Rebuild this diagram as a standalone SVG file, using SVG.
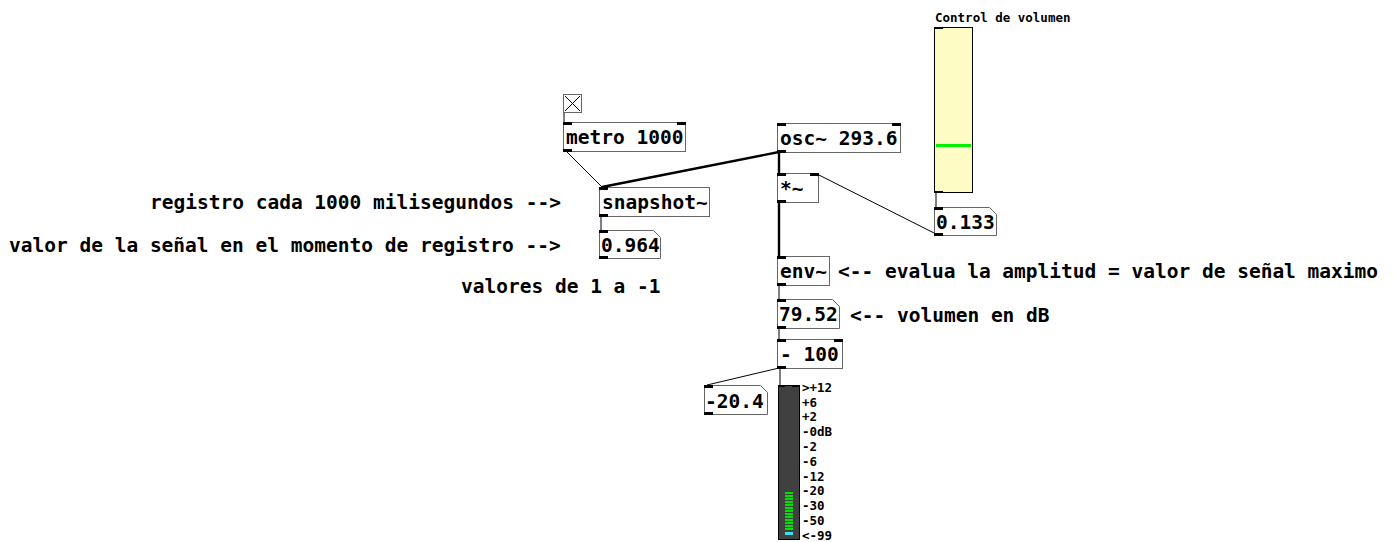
<svg xmlns="http://www.w3.org/2000/svg" width="1394" height="542" viewBox="0 0 1394 542">
<style>
.box{fill:#fff;stroke:#666;stroke-width:1}
.t{font-family:"DejaVu Sans Mono",monospace;font-weight:bold;font-size:19.5px;fill:#000}
.c{font-family:"DejaVu Sans Mono",monospace;font-weight:bold;font-size:19.5px;fill:#000}
.s{font-family:"DejaVu Sans Mono",monospace;font-weight:bold;font-size:12.5px;fill:#000}
.io{fill:#000}
.ctl{stroke:#000;stroke-width:1;fill:none}
.sig{stroke:#000;stroke-width:2.4;fill:none}
</style>
<rect width="1394" height="542" fill="#fff"/>
<g id="connectors">
<line class="ctl" x1="564" y1="112" x2="564" y2="122"/>
<line class="ctl" x1="566" y1="151" x2="602" y2="187"/>
<line class="sig" x1="779" y1="152" x2="602" y2="187"/>
<line class="sig" x1="779" y1="152" x2="779" y2="173"/>
<line class="sig" x1="779" y1="202" x2="779" y2="256"/>
<line class="ctl" x1="936" y1="192" x2="936" y2="207"/>
<line class="ctl" x1="936" y1="234" x2="817" y2="174"/>
<line class="ctl" x1="601" y1="216" x2="601" y2="230"/>
<line class="ctl" x1="779" y1="285" x2="779" y2="299"/>
<line class="ctl" x1="779" y1="328" x2="779" y2="339"/>
<line class="ctl" x1="779" y1="368" x2="707" y2="385"/>
<line class="ctl" x1="780" y1="368" x2="780" y2="385"/>
</g>
<g id="toggle">
<rect class="box" x="563.5" y="94.5" width="18" height="18"/>
<path d="M565 96 L580 111 M580 96 L565 111" stroke="#000" stroke-width="1"/>
</g>
<g id="metro">
<rect class="box" x="563.5" y="122.5" width="122" height="29"/>
<rect class="io" x="563" y="122" width="9" height="3"/><rect class="io" x="677" y="122" width="9" height="3"/>
<rect class="io" x="563" y="149" width="9" height="3"/>
<text class="t" x="566" y="144">metro 1000</text>
</g>
<g id="snapshot">
<rect class="box" x="599.5" y="187.5" width="110" height="29"/>
<rect class="io" x="599" y="187" width="9" height="3"/>
<rect class="io" x="599" y="214" width="9" height="3"/>
<text class="t" x="602" y="209">snapshot~</text>
</g>
<g id="num0964">
<path class="box" d="M599.5 230.5 H653.5 L660.5 237.5 V258.5 H599.5 Z"/>
<rect class="io" x="599" y="230" width="9" height="3"/>
<rect class="io" x="599" y="256" width="9" height="3"/>
<text class="t" x="601" y="252">0.964</text>
</g>
<g id="osc">
<rect class="box" x="777.5" y="123.5" width="123" height="29"/>
<rect class="io" x="777" y="123" width="9" height="3"/><rect class="io" x="892" y="123" width="9" height="3"/>
<rect class="io" x="777" y="150" width="9" height="3"/>
<text class="t" x="780" y="145">osc~ 293.6</text>
</g>
<g id="mul">
<rect class="box" x="777.5" y="173.5" width="41" height="29"/>
<rect class="io" x="777" y="173" width="9" height="3"/><rect class="io" x="810" y="173" width="9" height="3"/>
<rect class="io" x="777" y="200" width="9" height="3"/>
<text class="t" x="780" y="195">*~</text>
</g>
<g id="slider">
<text class="s" x="935" y="22">Control de volumen</text>
<rect x="934.5" y="27.5" width="38" height="165" fill="#fcfcc4" stroke="#000" stroke-width="1"/>
<rect class="io" x="934" y="27" width="9" height="2"/>
<rect class="io" x="934" y="191" width="9" height="2"/>
<rect x="936" y="144" width="35" height="3" fill="#00f000"/>
</g>
<g id="num0133">
<path class="box" d="M934.5 207.5 H989.5 L996.5 214.5 V235.5 H934.5 Z"/>
<rect class="io" x="934" y="207" width="9" height="3"/>
<rect class="io" x="934" y="233" width="9" height="3"/>
<text class="t" x="936" y="229">0.133</text>
</g>
<g id="env">
<rect class="box" x="777.5" y="256.5" width="52" height="29"/>
<rect class="io" x="777" y="256" width="9" height="3"/>
<rect class="io" x="777" y="283" width="9" height="3"/>
<text class="t" x="780" y="278">env~</text>
</g>
<g id="num7952">
<path class="box" d="M777.5 299.5 H832.5 L839.5 306.5 V328.5 H777.5 Z"/>
<rect class="io" x="777" y="299" width="9" height="3"/>
<rect class="io" x="777" y="326" width="9" height="3"/>
<text class="t" x="779" y="321">79.52</text>
</g>
<g id="minus100">
<rect class="box" x="777.5" y="339.5" width="65" height="29"/>
<rect class="io" x="777" y="339" width="9" height="3"/><rect class="io" x="834" y="339" width="9" height="3"/>
<rect class="io" x="777" y="366" width="9" height="3"/>
<text class="t" x="780" y="361">- 100</text>
</g>
<g id="num204">
<path class="box" d="M704.5 385.5 H760.5 L767.5 392.5 V414.5 H704.5 Z"/>
<rect class="io" x="704" y="385" width="9" height="3"/>
<rect class="io" x="704" y="412" width="9" height="3"/>
<text class="t" x="705" y="408">-20.4</text>
</g>
<g id="vu">
<rect x="778.5" y="385.5" width="21" height="154" fill="#404040" stroke="#000" stroke-width="1"/>
<rect class="io" x="778" y="385" width="7" height="2"/><rect class="io" x="792" y="385" width="7" height="2"/>
<g fill="#00e000">
<rect x="785" y="492" width="8" height="2"/><rect x="785" y="495" width="8" height="2"/><rect x="785" y="498" width="8" height="2"/><rect x="785" y="501" width="8" height="2"/><rect x="785" y="504" width="8" height="2"/><rect x="785" y="507" width="8" height="2"/><rect x="785" y="510" width="8" height="2"/><rect x="785" y="513" width="8" height="2"/><rect x="785" y="516" width="8" height="2"/><rect x="785" y="519" width="8" height="2"/><rect x="785" y="522" width="8" height="2"/><rect x="785" y="525" width="8" height="2"/><rect x="785" y="528" width="8" height="2"/>
</g>
<rect x="785" y="532" width="8" height="3" fill="#40e0e8"/>
<text class="s" x="802" y="392">&gt;+12</text>
<text class="s" x="802" y="407">+6</text>
<text class="s" x="802" y="421">+2</text>
<text class="s" x="802" y="436">-0dB</text>
<text class="s" x="802" y="451">-2</text>
<text class="s" x="802" y="466">-6</text>
<text class="s" x="802" y="481">-12</text>
<text class="s" x="802" y="495">-20</text>
<text class="s" x="802" y="510">-30</text>
<text class="s" x="802" y="525">-50</text>
<text class="s" x="802" y="540">&lt;-99</text>
</g>
<g id="comments">
<text class="c" x="150" y="209">registro cada 1000 milisegundos --&gt;</text>
<text class="c" x="9" y="252">valor de la señal en el momento de registro --&gt;</text>
<text class="c" x="461" y="293">valores de 1 a -1</text>
<text class="c" x="838" y="278">&lt;-- evalua la amplitud = valor de señal maximo</text>
<text class="c" x="850" y="322">&lt;-- volumen en dB</text>
</g>
</svg>
